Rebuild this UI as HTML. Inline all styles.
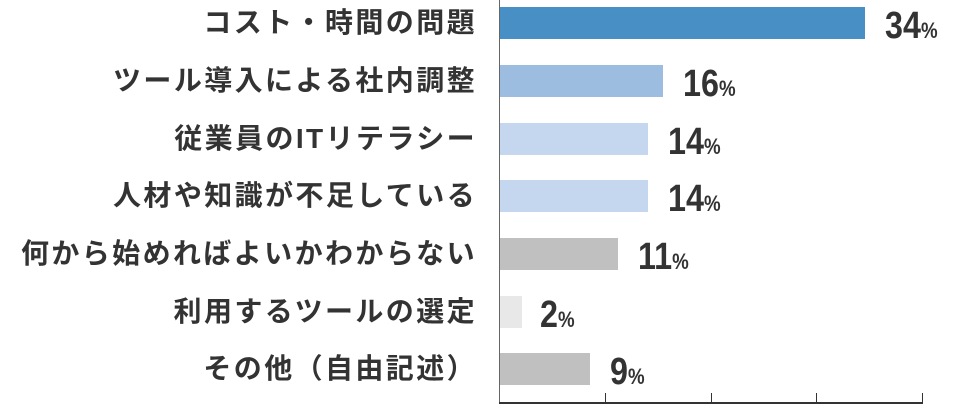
<!DOCTYPE html>
<html><head><meta charset="utf-8"><style>
html,body{margin:0;padding:0;background:#fff;}
body{width:960px;height:419px;position:relative;overflow:hidden;font-family:"Liberation Sans","Noto Sans CJK JP",sans-serif;color:#333;}
.lab{position:absolute;right:483px;font-size:28px;font-weight:bold;white-space:nowrap;line-height:32px;letter-spacing:2.4px;}
.bar{position:absolute;left:500px;height:32px;}
.val{position:absolute;font-size:38px;font-weight:bold;line-height:32px;color:#333;transform:scaleX(0.85);transform-origin:left center;}
.val small{font-size:22px;}
.ax{position:absolute;background:#333;}
</style></head><body>
<div class="ax" style="left:499px;top:0;width:1px;height:404px;background:#666"></div>
<div class="ax" style="left:499px;top:402px;width:424px;height:2px"></div>
<div class="ax" style="left:605px;top:393px;width:1px;height:10px"></div>
<div class="ax" style="left:711px;top:393px;width:1px;height:10px"></div>
<div class="ax" style="left:816px;top:393px;width:1px;height:10px"></div>
<div class="ax" style="left:922px;top:393px;width:1px;height:10px"></div>

<div class="lab" style="top:7px">コスト・時間の問題</div>
<div class="bar" style="top:7px;width:365px;background:#478fc4"></div>
<div class="val" style="left:885px;top:10px">34<small>%</small></div>

<div class="lab" style="top:65px">ツール導入による社内調整</div>
<div class="bar" style="top:65px;width:163px;background:#9dbde0"></div>
<div class="val" style="left:683px;top:68px">16<small>%</small></div>

<div class="lab" style="top:123px">従業員のITリテラシー</div>
<div class="bar" style="top:123px;width:148px;background:#c5d7ee"></div>
<div class="val" style="left:668px;top:126px">14<small>%</small></div>

<div class="lab" style="top:180px">人材や知識が不足している</div>
<div class="bar" style="top:180px;width:148px;background:#c5d7ee"></div>
<div class="val" style="left:668px;top:183px">14<small>%</small></div>

<div class="lab" style="top:238px">何から始めればよいかわからない</div>
<div class="bar" style="top:238px;width:118px;background:#c0c0c0"></div>
<div class="val" style="left:638px;top:241px">11<small>%</small></div>

<div class="lab" style="top:296px">利用するツールの選定</div>
<div class="bar" style="top:296px;width:22px;background:#e8e8e8"></div>
<div class="val" style="left:540px;top:299px">2<small>%</small></div>

<div class="lab" style="top:353px">その他（自由記述）</div>
<div class="bar" style="top:353px;width:90px;background:#c0c0c0"></div>
<div class="val" style="left:610px;top:356px">9<small>%</small></div>
</body></html>
